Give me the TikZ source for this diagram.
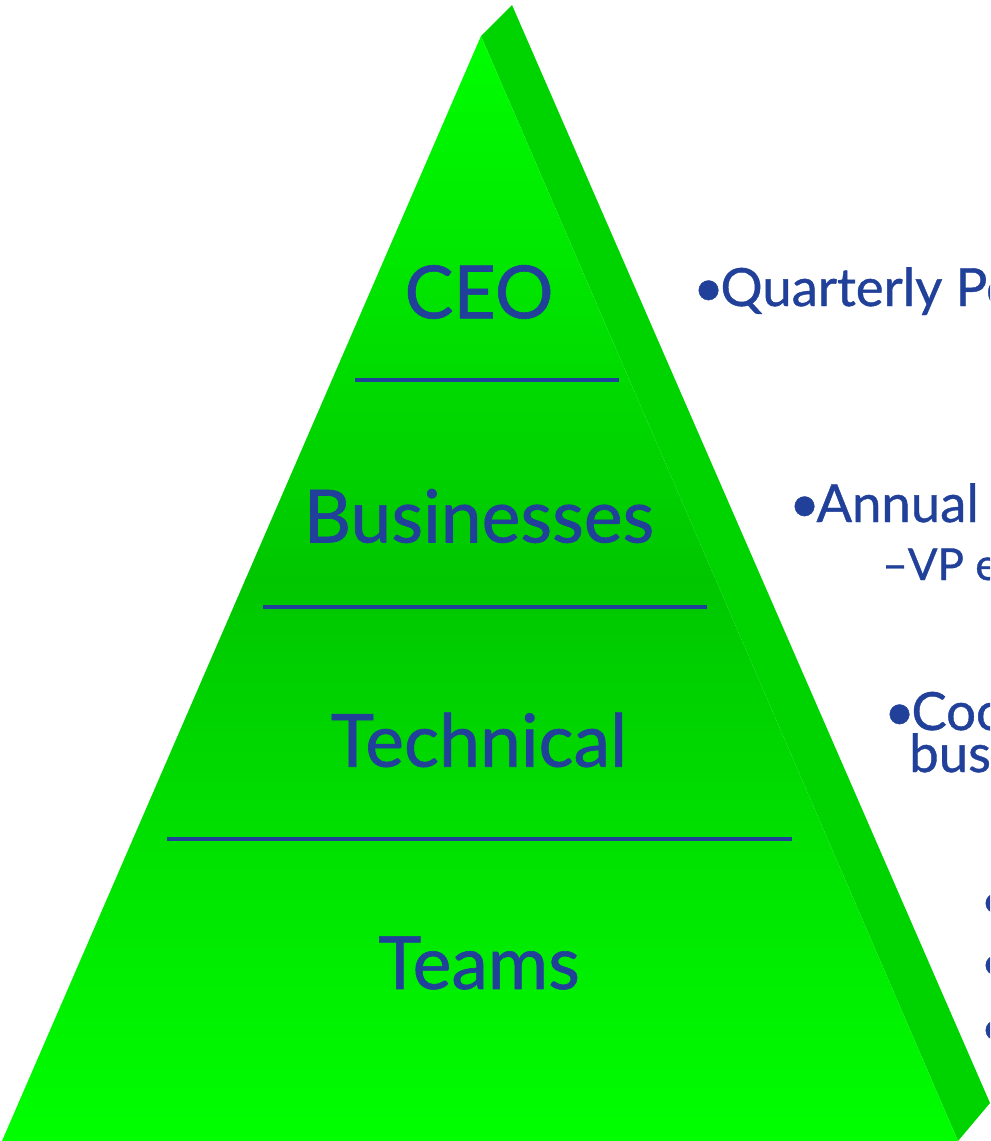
\documentclass[tikz,border=0pt]{standalone}
\usepackage{fontspec}
\setmainfont{Lato}[BoldFont={Lato}, BoldFeatures={FakeBold=0.8}]
\usetikzlibrary{positioning}
\definecolor{pyrtop}{RGB}{0,255,0}
\definecolor{pyrmid}{RGB}{0,198,0}
\definecolor{pyrside}{RGB}{0,212,0}
\definecolor{txtblue}{RGB}{33,64,153}
\newcommand{\bul}{•\kern-2.5pt}

\begin{document}
\begin{tikzpicture}[
    x=0.75pt, y=-0.75pt,
    level/.style={text=txtblue, font=\bfseries\fontsize{55}{60}\selectfont, inner sep=0pt},
    note/.style={text=txtblue, font=\bfseries\fontsize{39.5}{44}\selectfont, anchor=base west, inner sep=0pt},
    subnote/.style={note, font=\bfseries\fontsize{33}{36}\selectfont},
    divider/.style={draw=txtblue, line width=3pt}
]
    \useasboundingbox (0,0) rectangle (990,1141);
    \clip (0,0) rectangle (990,1141);

    % pyramid faces
    \fill[pyrside] (481,36) -- (512,5) -- (990,1103) -- (958,1141) -- cycle;
    \begin{scope}
        \clip (481,36) -- (958,1141) -- (2,1141) -- cycle;
        \shade[top color=pyrtop, bottom color=pyrmid] (0,30) rectangle (990,580);
        \shade[top color=pyrmid, bottom color=pyrtop] (0,579) rectangle (990,1141);
    \end{scope}

    % levels
    \node[level] (ceo) at (479,292) {CEO};
    \node[level] (biz) at (479,516) {Businesses};
    \node[level] (tech) at (479,740) {Technical};
    \node[level] (teams) at (479,963) {Teams};

    \draw[divider] (355,380) -- (619,380);
    \draw[divider] (263,607) -- (707,607);
    \draw[divider] (167,839) -- (792,839);

    % notes on the right
    \node[note] (qtr) at (693,306) {\bul Quarterly Pe};
    \node[note] (annual) at (789,522) {\bul Annual};
    \node[subnote] (vp) at (882,580) {–VP e};
    \node[note] (coord) at (884,730) {\bul Coo};
    \node[note] (bus) at (909,772) {bus};
    \node[note] (dot1) at (980,919) {•};
    \node[note] (dot2) at (980,981) {•};
    \node[note] (dot3) at (980,1046) {•};
\end{tikzpicture}
\end{document}
